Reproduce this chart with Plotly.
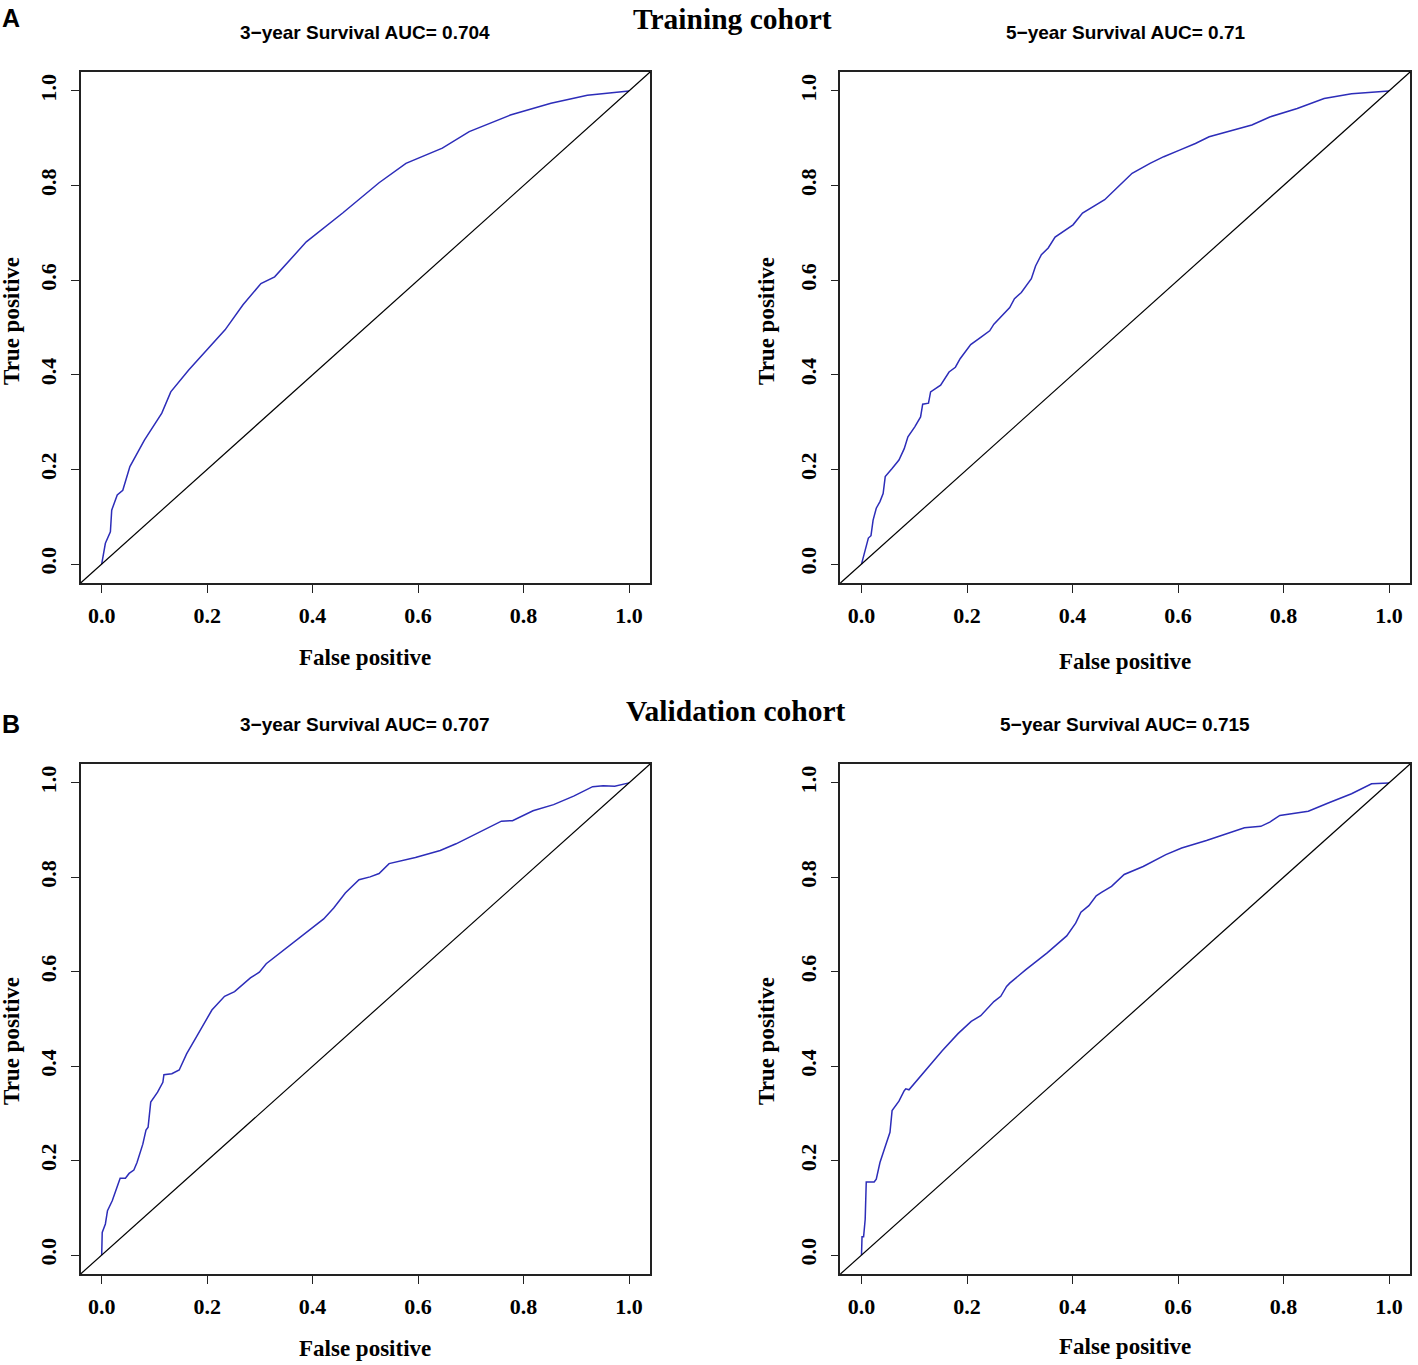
import plotly.graph_objects as go

# ROC curves (false positive rate, true positive rate)
train_3y_fpr = [0, 0.007, 0.0165, 0.019, 0.0295, 0.04, 0.0535, 0.081, 0.114, 0.131, 0.165, 0.2, 0.234,
                0.268, 0.302, 0.328, 0.388, 0.457, 0.526, 0.577, 0.646, 0.697, 0.775, 0.852, 0.921, 1.0]
train_3y_tpr = [0, 0.044, 0.068, 0.114, 0.146, 0.156, 0.206, 0.262, 0.319, 0.364, 0.41, 0.452, 0.495,
                0.548, 0.593, 0.607, 0.681, 0.742, 0.806, 0.847, 0.879, 0.914, 0.949, 0.974, 0.991, 1.0]

train_5y_fpr = [0, 0.007, 0.013, 0.018, 0.022, 0.028, 0.035, 0.041, 0.045, 0.058, 0.071, 0.081, 0.088,
                0.101, 0.112, 0.116, 0.127, 0.131, 0.15, 0.166, 0.178, 0.187, 0.207, 0.226, 0.243,
                0.251, 0.281, 0.29, 0.303, 0.322, 0.33, 0.341, 0.354, 0.367, 0.401, 0.419, 0.461,
                0.487, 0.513, 0.547, 0.573, 0.603, 0.633, 0.659, 0.706, 0.74, 0.774, 0.826, 0.877,
                0.929, 1.0]
train_5y_tpr = [0, 0.03, 0.055, 0.06, 0.093, 0.118, 0.132, 0.149, 0.185, 0.202, 0.22, 0.244, 0.269,
                0.29, 0.311, 0.338, 0.34, 0.364, 0.378, 0.406, 0.416, 0.434, 0.464, 0.479, 0.493,
                0.507, 0.542, 0.561, 0.574, 0.603, 0.63, 0.654, 0.668, 0.691, 0.717, 0.742, 0.77,
                0.798, 0.826, 0.847, 0.861, 0.875, 0.889, 0.903, 0.917, 0.928, 0.945, 0.963, 0.984,
                0.994, 1.0]

valid_3y_fpr = [0, 0.001, 0.007, 0.011, 0.02, 0.035, 0.045, 0.052, 0.061, 0.067, 0.078, 0.084, 0.088,
                0.093, 0.106, 0.116, 0.118, 0.133, 0.147, 0.161, 0.181, 0.209, 0.233, 0.252, 0.282,
                0.299, 0.312, 0.355, 0.389, 0.421, 0.44, 0.462, 0.488, 0.509, 0.526, 0.545, 0.595,
                0.642, 0.672, 0.715, 0.758, 0.779, 0.801, 0.818, 0.857, 0.895, 0.931, 0.951, 0.973, 1.0]
valid_3y_tpr = [0, 0.048, 0.066, 0.094, 0.115, 0.163, 0.163, 0.173, 0.18, 0.196, 0.235, 0.265, 0.271,
                0.324, 0.345, 0.366, 0.382, 0.384, 0.392, 0.426, 0.465, 0.519, 0.548, 0.558, 0.587,
                0.599, 0.617, 0.654, 0.683, 0.712, 0.735, 0.767, 0.795, 0.801, 0.808, 0.829, 0.842,
                0.857, 0.871, 0.895, 0.919, 0.92, 0.931, 0.941, 0.954, 0.972, 0.992, 0.994, 0.993, 1.0]

valid_5y_fpr = [0, 0.001, 0.004, 0.007, 0.009, 0.024, 0.028, 0.035, 0.045, 0.054, 0.058, 0.071, 0.081,
                0.084, 0.09, 0.105, 0.131, 0.153, 0.183, 0.208, 0.226, 0.251, 0.264, 0.275, 0.281,
                0.311, 0.352, 0.389, 0.406, 0.416, 0.431, 0.445, 0.455, 0.474, 0.498, 0.534, 0.577,
                0.607, 0.654, 0.697, 0.726, 0.757, 0.774, 0.793, 0.817, 0.847, 0.886, 0.929, 0.967, 1.0]
valid_5y_tpr = [0, 0.039, 0.039, 0.076, 0.155, 0.155, 0.161, 0.196, 0.23, 0.26, 0.306, 0.326, 0.348,
                0.352, 0.35, 0.37, 0.405, 0.433, 0.469, 0.495, 0.507, 0.537, 0.548, 0.569, 0.576,
                0.604, 0.64, 0.676, 0.703, 0.726, 0.74, 0.761, 0.768, 0.781, 0.806, 0.823, 0.848,
                0.862, 0.878, 0.894, 0.905, 0.908, 0.917, 0.931, 0.935, 0.94, 0.958, 0.977, 0.998, 1.0]

panel_titles = ['3\u2212year Survival AUC= 0.704', '5\u2212year Survival AUC= 0.71',
                '3\u2212year Survival AUC= 0.707', '5\u2212year Survival AUC= 0.715']
tick_vals = [0, 0.2, 0.4, 0.6, 0.8, 1.0]
tick_text = ['0.0', '0.2', '0.4', '0.6', '0.8', '1.0']

W, H = 1418, 1365
AXIS_RANGE = [-0.04, 1.04]
SERIF = 'Liberation Serif'
SANS = 'Liberation Sans'

curves = [(train_3y_fpr, train_3y_tpr), (train_5y_fpr, train_5y_tpr),
          (valid_3y_fpr, valid_3y_tpr), (valid_5y_fpr, valid_5y_tpr)]

# plot boxes in pixels: (left, right, top, bottom)
boxes = [(80.6, 650.1, 72, 583), (840.4, 1410.1, 72, 583),
         (80.6, 650.1, 764, 1274), (840.4, 1410.1, 764, 1274)]

fig = go.Figure()

for i, ((fpr, tpr), (l, r, t, b)) in enumerate(zip(curves, boxes)):
    n = '' if i == 0 else str(i + 1)
    fig.add_trace(go.Scatter(
        x=fpr, y=tpr, mode='lines',
        line=dict(color='rgb(45,45,185)', width=1.5),
        showlegend=False, xaxis='x' + n, yaxis='y' + n,
        hoverinfo='x+y'
    ))
    # reference diagonal (abline 0,1) from corner to corner
    fig.add_shape(type='line', xref='x' + n + ' domain', yref='y' + n + ' domain',
                  x0=0, y0=0, x1=1, y1=1, line=dict(color='black', width=1.2))

    common = dict(
        range=AXIS_RANGE, showgrid=False, zeroline=False,
        showline=True, mirror=True, linecolor='#222', linewidth=1.5,
        ticks='outside', ticklen=8, tickwidth=1.2, tickcolor='#222',
        tickmode='array', tickvals=tick_vals, ticktext=tick_text,
        tickfont=dict(family=SERIF, size=22, color='black', weight='bold'),
        fixedrange=True,
    )
    fig.layout['xaxis' + n] = dict(
        common, domain=[l / W, r / W], anchor='y' + n, ticklabelstandoff=4)
    fig.layout['yaxis' + n] = dict(
        common, domain=[1 - b / H, 1 - t / H], anchor='x' + n,
        tickangle=-90, ticklabelstandoff=6)

    # subplot title
    fig.add_annotation(text='<b>' + panel_titles[i] + '</b>', xref='paper', yref='paper',
                       x=(l + r) / 2 / W, y=1 - (t - 40) / H, showarrow=False,
                       font=dict(family=SANS, size=19, color='black'),
                       xanchor='center', yanchor='middle')

xlab_y = [657, 661, 1348, 1346]
ylab_x = [11, 766, 11, 766]
ylab_y = [321, 321, 1041, 1041]
for i, (l, r, t, b) in enumerate(boxes):
    fig.add_annotation(text='<b>False positive</b>', xref='paper', yref='paper',
                       x=(l + r) / 2 / W, y=1 - xlab_y[i] / H, showarrow=False,
                       font=dict(family=SERIF, size=23, color='black'),
                       xanchor='center', yanchor='middle')
    fig.add_annotation(text='<b>True positive</b>', xref='paper', yref='paper',
                       x=ylab_x[i] / W, y=1 - ylab_y[i] / H, showarrow=False, textangle=-90,
                       font=dict(family=SERIF, size=23, color='black'),
                       xanchor='center', yanchor='middle')

# cohort headings and panel letters
for text, x, y in [('Training cohort', 732, 19), ('Validation cohort', 736, 711)]:
    fig.add_annotation(text='<b>' + text + '</b>', xref='paper', yref='paper',
                       x=x / W, y=1 - y / H, showarrow=False,
                       font=dict(family=SERIF, size=29.5, color='black'),
                       xanchor='center', yanchor='middle')
for text, x, y in [('A', 11, 18), ('B', 11, 724)]:
    fig.add_annotation(text='<b>' + text + '</b>', xref='paper', yref='paper',
                       x=x / W, y=1 - y / H, showarrow=False,
                       font=dict(family=SANS, size=25, color='black'),
                       xanchor='center', yanchor='middle')

fig.update_layout(
    width=W, height=H,
    margin=dict(l=0, r=0, t=0, b=0),
    paper_bgcolor='white', plot_bgcolor='white',
    showlegend=False,
)

# page body has a default 8px margin; remove it so the figure fills the window
fig.write_html("out.html", config={'displayModeBar': False},
               post_script="document.body.style.margin='0';document.body.style.overflow='hidden';")
